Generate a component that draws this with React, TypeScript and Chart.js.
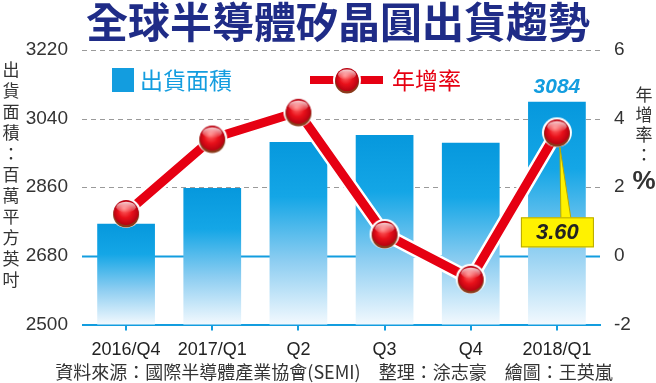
import React, { useEffect, useRef } from 'react';
import { Chart, registerables } from 'chart.js';

Chart.register(...registerables);

const categories = ['2016/Q4', '2017/Q1', 'Q2', 'Q3', 'Q4', '2018/Q1'];
const shipmentArea = [2764, 2858, 2979, 2997, 2977, 3084];
const yoyGrowth = [1.25, 3.42, 4.2, 0.64, -0.67, 3.6];
const leftTicks = [2500, 2680, 2860, 3040, 3220];
const rightTicks = [-2, 0, 2, 4, 6];
const seriesLabels = ['出貨面積', '年增率'];
const titleText = '全球半導體矽晶圓出貨趨勢';
const leftAxisTitle = '出貨面積：百萬平方英吋';
const rightAxisTitle = ['年', '增', '率', '：'];
const rightAxisUnit = '%';
const sourceText = '資料來源：國際半導體產業協會(SEMI)　整理：涂志豪　繪圖：王英嵐';

const BLUE = '#139ddf';
const RED = '#e60012';
const CJK = '"Noto Sans CJK TC", "Noto Sans CJK SC", sans-serif';
const NUM = '"Liberation Sans", Arial, sans-serif';

function makeBall(r: number): HTMLCanvasElement {
  const pad = 3;
  const size = (r + pad) * 2;
  const c = document.createElement('canvas');
  c.width = size;
  c.height = size;
  const g = c.getContext('2d')!;
  const cx = size / 2;
  const cy = size / 2;
  g.beginPath();
  g.arc(cx, cy, r, 0, Math.PI * 2);
  g.fillStyle = '#ffffff';
  g.fill();
  const ri = r - 2;
  g.beginPath();
  g.arc(cx, cy + 1.5, ri, 0, Math.PI * 2);
  g.fillStyle = '#8a3a1a';
  g.fill();
  const rg = g.createRadialGradient(cx - 2, cy - 4, 1, cx, cy, ri);
  rg.addColorStop(0, '#ff6060');
  rg.addColorStop(0.5, '#e8101a');
  rg.addColorStop(1, '#b00010');
  g.beginPath();
  g.arc(cx, cy - 0.5, ri - 0.5, 0, Math.PI * 2);
  g.fillStyle = rg;
  g.fill();
  const hg = g.createLinearGradient(0, cy - ri, 0, cy - 1);
  hg.addColorStop(0, 'rgba(255,255,255,0.95)');
  hg.addColorStop(1, 'rgba(255,255,255,0.05)');
  g.beginPath();
  g.ellipse(cx, cy - ri * 0.45, ri * 0.75, ri * 0.42, 0, 0, Math.PI * 2);
  g.fillStyle = hg;
  g.fill();
  return c;
}

export default function App() {
  const ref = useRef<HTMLCanvasElement | null>(null);

  useEffect(() => {
    document.body.style.margin = '0';
    const canvas = ref.current!;
    const ball = makeBall(15);
    const legendBall = makeBall(14);

    const decor = {
      id: 'decor',
      beforeDatasetsDraw(chart: any) {
        const { ctx, chartArea } = chart;
        const y = chart.scales.y;
        ctx.save();
        leftTicks.forEach((v) => {
          if (v === leftTicks[0]) return;
          const py = Math.round(y.getPixelForValue(v)) + 0.5;
          ctx.beginPath();
          if (v === 2680) {
            ctx.setLineDash([]);
            ctx.strokeStyle = BLUE;
            ctx.lineWidth = 2;
          } else {
            ctx.setLineDash([5, 4]);
            ctx.strokeStyle = '#9a9a9a';
            ctx.lineWidth = 1;
          }
          ctx.moveTo(chartArea.left - 1, py);
          ctx.lineTo(chartArea.right, py);
          ctx.stroke();
        });
        ctx.restore();
      },
      afterDraw(chart: any) {
        const { ctx } = chart;
        ctx.save();
        ctx.font = `bold 42px ${CJK}`;
        ctx.fillStyle = '#1f2c87';
        ctx.textAlign = 'center';
        ctx.textBaseline = 'middle';
        ctx.fillText(titleText, 338, 22);

        ctx.font = `17px ${CJK}`;
        ctx.fillStyle = '#333333';
        Array.from(leftAxisTitle).forEach((ch, i) => {
          ctx.fillText(ch, 11, 70 + i * 21);
        });
        rightAxisTitle.forEach((ch, i) => {
          ctx.fillText(ch, 644, 95 + i * 20);
        });
        ctx.font = `bold 26px ${NUM}`;
        ctx.fillText(rightAxisUnit, 644, 182);

        ctx.font = `18px ${CJK}`;
        ctx.fillStyle = '#333333';
        ctx.fillText(sourceText, 334, 372);

        ctx.fillStyle = BLUE;
        ctx.fillRect(112, 68, 22, 24);
        ctx.font = `23px ${CJK}`;
        ctx.textAlign = 'left';
        ctx.fillText(chart.data.datasets[0].label, 140, 80);
        ctx.fillStyle = RED;
        ctx.fillRect(310, 76, 73, 8);
        ctx.drawImage(legendBall, 347 - legendBall.width / 2, 80 - legendBall.height / 2);
        ctx.fillStyle = RED;
        ctx.fillText(chart.data.datasets[2].label, 392, 80);

        const barMeta = chart.getDatasetMeta(0);
        const last = barMeta.data.length - 1;
        const bar = barMeta.data[last];
        ctx.font = `italic bold 21px ${NUM}`;
        ctx.fillStyle = BLUE;
        ctx.textAlign = 'center';
        ctx.textBaseline = 'bottom';
        ctx.fillText(String(shipmentArea[last]), bar.x, bar.y - 4);

        const lineMeta = chart.getDatasetMeta(2);
        const pt = lineMeta.data[last];
        const boxL = pt.x - 36;
        const boxR = pt.x + 37;
        const boxT = pt.y + 85;
        const boxB = boxT + 30;
        ctx.beginPath();
        ctx.moveTo(pt.x + 3, pt.y + 15);
        ctx.lineTo(pt.x + 14, boxT + 1);
        ctx.lineTo(pt.x + 4, boxT + 1);
        ctx.closePath();
        ctx.fillStyle = '#fff200';
        ctx.fill();
        ctx.strokeStyle = '#b8a800';
        ctx.lineWidth = 1;
        ctx.stroke();
        ctx.fillStyle = '#fff200';
        ctx.fillRect(boxL, boxT, boxR - boxL, boxB - boxT);
        ctx.strokeRect(boxL + 0.5, boxT + 0.5, boxR - boxL - 1, boxB - boxT - 1);
        ctx.font = `italic bold 22px ${NUM}`;
        ctx.fillStyle = '#222222';
        ctx.textBaseline = 'middle';
        ctx.fillText(yoyGrowth[last].toFixed(2), (boxL + boxR) / 2, (boxT + boxB) / 2 + 1);
        ctx.restore();
      },
    };

    const chart = new Chart(canvas, {
      type: 'bar',
      data: {
        labels: categories,
        datasets: [
          {
            type: 'bar',
            label: seriesLabels[0],
            data: shipmentArea,
            yAxisID: 'y',
            order: 3,
            barPercentage: 0.67,
            categoryPercentage: 1,
            backgroundColor: (c: any) => {
              const ch = c.chart;
              if (!ch.chartArea || c.type !== 'data') return BLUE;
              const ys = ch.scales.y;
              const top = ys.getPixelForValue(c.raw);
              const bottom = ys.getPixelForValue(ys.min);
              const g = ch.ctx.createLinearGradient(0, top, 0, bottom);
              g.addColorStop(0, '#0698dd');
              g.addColorStop(0.3, '#14a6e6');
              g.addColorStop(0.65, '#8ccdf1');
              g.addColorStop(1, '#f2f9fe');
              return g;
            },
          } as any,
          {
            type: 'line',
            label: '_outline',
            data: yoyGrowth,
            yAxisID: 'y1',
            order: 2,
            borderColor: '#ffffff',
            borderWidth: 14,
            pointRadius: 0,
            tension: 0,
          } as any,
          {
            type: 'line',
            label: seriesLabels[1],
            data: yoyGrowth,
            yAxisID: 'y1',
            order: 1,
            borderColor: RED,
            borderWidth: 9,
            pointStyle: ball,
            pointRadius: 15,
            tension: 0,
          } as any,
        ],
      },
      options: {
        responsive: false,
        animation: false,
        layout: { padding: { top: 50, left: 0, right: 0, bottom: 0 } },
        plugins: { legend: { display: false }, tooltip: { enabled: false } },
        scales: {
          x: {
            offset: true,
            grid: {
              offset: false,
              drawOnChartArea: false,
              drawTicks: true,
              tickLength: 6,
              color: BLUE,
              lineWidth: 2,
            },
            border: { display: true, color: BLUE, width: 2 },
            ticks: { font: { size: 18, family: NUM }, color: '#222222', padding: 9, maxRotation: 0 },
            afterFit: (s: any) => { s.height = 58.5; },
          },
          y: {
            position: 'left',
            min: leftTicks[0],
            max: leftTicks[leftTicks.length - 1],
            afterBuildTicks: (s: any) => { s.ticks = leftTicks.map((v) => ({ value: v })); },
            grid: { display: false },
            border: { display: false },
            ticks: {
              font: { size: 19, family: NUM },
              color: '#333333',
              padding: 7,
              callback: (v: any) => String(v),
            },
            afterFit: (s: any) => { s.width = 83; },
          },
          y1: {
            position: 'right',
            min: rightTicks[0],
            max: rightTicks[rightTicks.length - 1],
            afterBuildTicks: (s: any) => { s.ticks = rightTicks.map((v) => ({ value: v })); },
            grid: { display: false },
            border: { display: false },
            ticks: {
              font: { size: 19, family: NUM },
              color: '#333333',
              padding: 6,
              callback: (v: any) => String(v),
            },
            afterFit: (s: any) => { s.width = 56; },
          },
        },
      } as any,
      plugins: [decor],
    });
    return () => chart.destroy();
  }, []);

  return (
    <div style={{ width: 656, height: 383, background: '#ffffff' }}>
      <canvas ref={ref} width={656} height={383} />
    </div>
  );
}
